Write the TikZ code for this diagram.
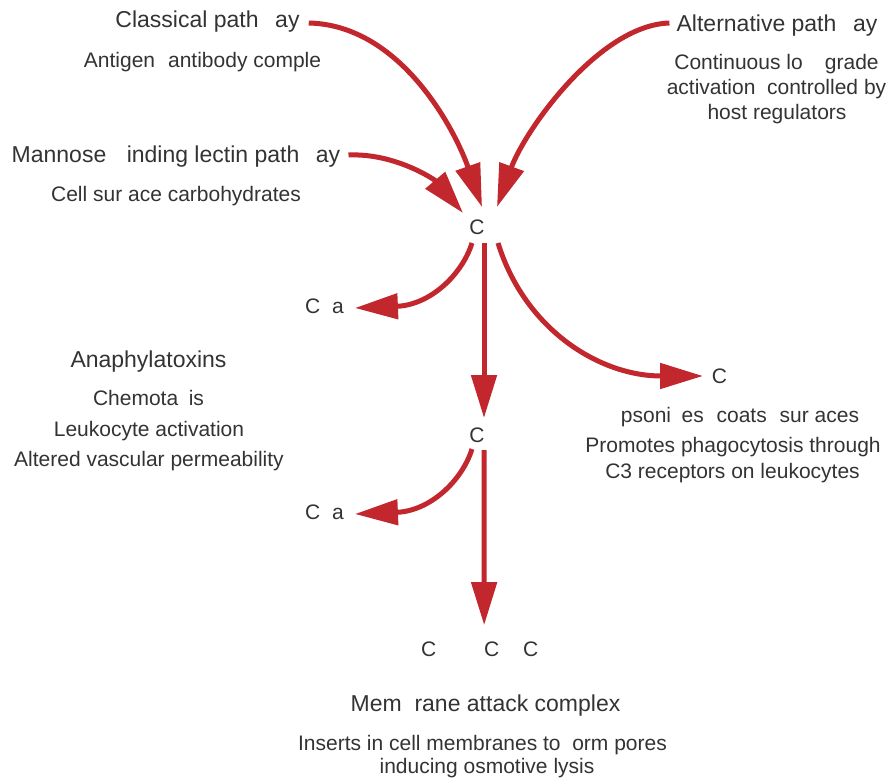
\documentclass[tikz,border=0pt]{standalone}
\usepackage{fontspec}
\setmainfont{Liberation Sans}
\usetikzlibrary{arrows.meta}
\definecolor{arr}{HTML}{C1272D}
\definecolor{txt}{HTML}{333333}
\begin{document}
\begin{tikzpicture}[x=1pt,y=-1pt,
  head/.style={font=\fontsize{23}{27}\selectfont, text=txt, inner sep=0pt, anchor=base},
  body/.style={font=\fontsize{21}{25.5}\selectfont, text=txt, inner sep=0pt, anchor=base},
  clab/.style={font=\fontsize{21}{25.5}\selectfont, text=txt, inner sep=0pt},
  flow/.style={draw=arr, line width=5pt, -{Triangle[length=43pt,width=25pt]}}]
\useasboundingbox (0,0) rectangle (891,778);

% pathway labels
\node[head] (classical) at (207.5,28) {Classical path\phantom{w}ay};
\node[body] (antigen) at (202.5,68) {Antigen\hspace{0.62em}antibody comple};
\node[head] (mbl) at (176,163) {Mannose\phantom{-b}inding lectin path\phantom{w}ay};
\node[body] (cellsurf) at (176,201) {Cell sur\phantom{f}ace carbohydrates};
\node[head] (alt) at (777,32) {Alternative path\phantom{w}ay};
\node[body] (alt1) at (776.5,70) {Continuous lo\phantom{w-}grade};
\node[body] (alt2) at (776.5,95) {activation\phantom{,} controlled by};
\node[body] (alt3) at (777,120) {host regulators};

% complement components
\node[clab] (c3) at (477,227) {C};
\node[body, anchor=base west] (c3a) at (305,313) {C\phantom{3}a};
\node[clab] (c3b) at (719.5,376.5) {C};
\node[clab] (c5) at (477,435.5) {C};
\node[body, anchor=base west] (c5a) at (305,519) {C\phantom{5}a};
\node[body, anchor=base west] (mac) at (421,656) {C\hspace{47.8pt}C\hspace{23.8pt}C};

% descriptions
\node[head] (anaph) at (148.5,367) {Anaphylatoxins};
\node[body] (chemo) at (148.5,405) {Chemota\phantom{x}is};
\node[body] (leuko) at (149,436) {Leukocyte activation};
\node[body] (perm) at (149,466) {Altered vascular permeability};

\node[body] (opson) at (740,422) {psoni\phantom{z}es \phantom{(}coats\phantom{)} sur\phantom{f}aces};
\node[body] (prom) at (733,452) {Promotes phagocytosis through};
\node[body] (rec) at (732.5,478) {C3 receptors on leukocytes};

\node[head] (macname) at (485.5,711) {Mem\phantom{b}rane attack complex};
\node[body] (mac1) at (482.5,750) {Inserts in cell membranes to \phantom{f}orm pores};
\node[body] (mac2) at (487,773) {inducing osmotive lysis};

% arrows
\draw[flow] ([shift={(9,-5)}]classical.base east) .. controls +(92,2) and +(-27,-77) .. ([shift={(5,-20)}]c3.center);
\draw[flow] ([shift={(-7,-9)}]alt.base west) .. controls +(-70,2) and +(28,-77) .. ([shift={(20,-20)}]c3.center);
\draw[flow] ([shift={(8,-8)}]mbl.base east) .. controls +(47,-2) and +(-28,-33) .. ([shift={(-14,-14)}]c3.center);

\draw[flow] ([shift={(-5,16)}]c3.center) .. controls +(-10,32) and +(75,-3) .. ([shift={(11,-5)}]c3a.base east);
\draw[flow] ([shift={(7,16)}]c3.center) -- ([shift={(7,-17.5)}]c5.center);
\draw[flow] ([shift={(21,16)}]c3.center) .. controls +(27,87) and +(-103,0) .. ([shift={(-16.5,-0.5)}]c3b.center);

\draw[flow] ([shift={(-5,13.5)}]c5.center) .. controls +(-10,32) and +(75,-3) .. ([shift={(11,-5)}]c5a.base east);
\draw[flow] ([shift={(7,14.5)}]c5.center) -- ([shift={(4.4,-16)}]mac.north);
\end{tikzpicture}
\end{document}
